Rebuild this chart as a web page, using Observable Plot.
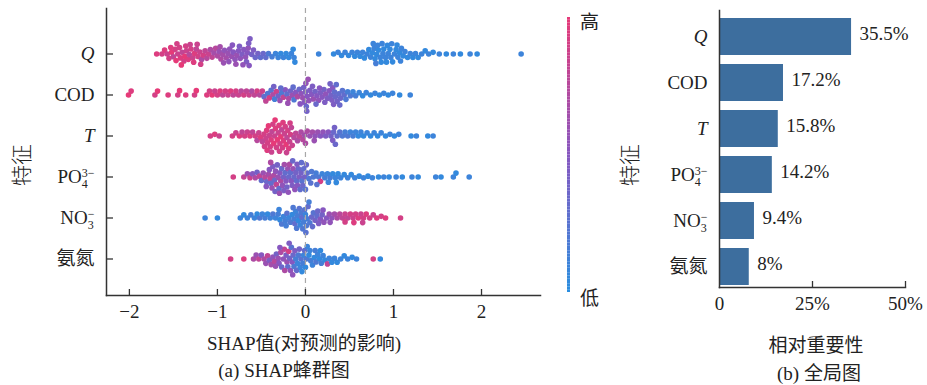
<!DOCTYPE html>
<html>
<head>
<meta charset="utf-8">
<script src="https://cdn.jsdelivr.net/npm/d3@7"></script>
<script src="https://cdn.jsdelivr.net/npm/@observablehq/plot@0.6"></script>
<style>
  html, body { margin: 0; padding: 0; background: #fff; }
  #root { position: relative; width: 927px; height: 385px; overflow: hidden;
    font-family: 'Liberation Serif', 'Noto Sans CJK SC', serif; color: #222; }
  .pane { position: absolute; top: 0; }
  .cap { position: absolute; transform: translate(-50%, -50%); white-space: nowrap; font-size: 19px; }
  .ylab { position: absolute; transform: translate(-50%, -50%) rotate(-90deg); white-space: nowrap; font-size: 21px; font-weight: 300; }
</style>
</head>
<body>
<div id="root"></div>
<script>
// ---------------- data ----------------
const features = ["Q", "COD", "T", "PO4", "NO3", "氨氮"];
const importance = [35.5, 17.2, 15.8, 14.2, 9.4, 8];
const shapTicks = [-2, -1, 0, 1, 2];
const impTicks = [0, 25, 50];

// [SHAP value, normalised feature value]
const qPts = [[-1.69,.95],[-1.63,.9],[-1.60,.95],[-1.57,.85],[-1.55,.9],[-1.52,1],[-1.50,.8],[-1.48,.9],[-1.47,1],[-1.45,.85],[-1.43,.9],[-1.42,.95],[-1.40,.8],[-1.38,.9],[-1.37,1],[-1.35,.85],[-1.33,.95],[-1.32,.75],[-1.30,.9],[-1.28,.85],[-1.26,.95],[-1.24,.8],[-1.22,.9],[-1.20,.85],[-1.18,.7],[-1.16,.9],[-1.14,.8],[-1.12,.75],[-1.10,.85],[-1.08,.7],[-1.06,.8],[-1.04,.65],[-1.02,.75],[-1.00,.7],[-0.98,.6],[-0.96,.7],[-0.94,.65],[-0.92,.55],[-0.90,.65],[-0.88,.6],[-0.86,.55],[-0.84,.6],[-0.82,.5],[-0.80,.55],[-0.78,.6],[-0.76,.5],[-0.74,.55],[-0.72,.45],[-0.70,.5],[-0.68,.55],[-0.67,.45],[-0.66,.5],[-0.65,.55],[-0.645,.45],[-0.64,.5],[-0.63,.45],[-0.61,.4],[-0.59,.45],[-0.57,.35],[-0.54,.4],[-0.51,.3],[-0.48,.35],[-0.45,.3],[-0.42,.2],[-0.38,.15],[-0.34,.1],[-0.31,.1],[-0.28,.05],[-0.25,.1],[-0.22,.05],[-0.19,.05],[-0.16,.1],[-0.14,.05],[-0.13,.1],[-0.12,.05],
  [-1.53,.95],[-1.46,.9],[-1.41,1],[-1.36,.9],[-1.31,.85],[-1.27,.95],[-1.23,.85],[-1.19,.9],[-0.97,.65],[-0.93,.6],[-0.87,.55],[-0.83,.5],[-0.79,.6],[-0.75,.45],[-0.71,.55],
  [0.15,.1],[0.32,.05],[0.37,.1],[0.41,.05],[0.45,.1],[0.49,.05],[0.53,.1],[0.56,.05],[0.59,.1],[0.62,.05],[0.65,.1],[0.67,.05],[0.70,.1],[0.72,.05],[0.74,.1],[0.76,.05],[0.78,.1],[0.79,.05],[0.80,.15],[0.81,.05],[0.82,.1],[0.83,.05],[0.85,.1],[0.86,.05],[0.88,.1],[0.89,.05],[0.91,.1],[0.92,.05],[0.94,.1],[0.96,.05],[0.97,.1],[0.99,.05],[1.01,.1],[1.03,.05],[1.05,.1],[1.07,.05],[1.09,.1],[1.11,.05],[1.13,.1],[1.16,.05],[1.19,.1],[1.22,.05],[1.25,.1],[1.28,.05],[1.32,.1],[1.36,.05],[1.40,.1],[1.45,.05],[1.52,.1],[1.60,.05],[1.68,.1],[1.76,.05],[1.87,.1],[1.95,.05],[2.45,.1],
  [0.77,.1],[0.87,.1],[0.93,.05],[0.98,.1],[1.04,.05],[1.08,.1]];

const codPts = [[-2.01,1],[-1.98,.95],[-1.71,.9],[-1.68,1],[-1.56,.95],[-1.45,.9],[-1.43,1],[-1.36,.95],[-1.26,.9],[-1.24,1],[-1.12,.95],[-1.09,.9],[-1.06,1],[-1.03,.85],[-1.00,.9],[-0.97,.95],[-0.94,.8],[-0.91,.9],[-0.88,.85],[-0.85,.95],[-0.82,.8],[-0.79,.9],[-0.76,.85],[-0.73,.75],[-0.70,.9],[-0.67,.8],[-0.64,.85],[-0.61,.7],[-0.58,.8],[-0.55,.9],[-0.52,.75],[-0.49,.85],[-0.47,.3],[-0.45,.8],[-0.43,.2],[-0.41,.9],[-0.39,.25],[-0.37,.7],[-0.35,.15],[-0.33,.85],[-0.31,.4],[-0.29,.6],[-0.27,.2],[-0.25,.8],[-0.23,.5],[-0.21,.3],[-0.19,.7],[-0.17,.4],[-0.15,.6],[-0.13,.2],[-0.11,.5],[-0.09,.7],[-0.07,.35],[-0.05,.55],[-0.03,.6],[-0.02,.4],[-0.01,.5],[0.00,.45],[0.005,.55],[0.01,.35],[0.02,.5],[0.03,.6],[0.05,.45],[0.07,.5],[0.09,.6],[0.11,.4],[0.13,.5],[0.15,.55],[0.17,.45],[0.19,.5],[0.21,.4],[0.23,.55],[0.25,.45],[0.27,.5],[0.29,.4],[0.30,.45],[0.31,.5],[0.32,.45],[0.33,.3],[0.34,.35],[0.36,.4],[0.38,.3],[0.40,.35],[0.42,.25],[0.44,.3],[0.46,.2],[0.48,.15],[0.51,.2],[0.54,.1],[0.57,.15],[0.61,.1],[0.65,.05],[0.69,.1],[0.74,.05],[0.79,.1],[0.84,.05],[0.89,.1],[0.94,.05],[0.99,.1],[1.07,.05],[1.19,.1],
  [-0.36,.4],[-0.28,.3],[-0.20,.6],[-0.14,.3],[-0.06,.5],[0.015,.4],[0.04,.55],[0.08,.45],[0.12,.35],[0.16,.5],[0.22,.45],[0.28,.4],[0.35,.3],[0.39,.35]];

const tPts = [[-1.08,.9],[-1.03,.95],[-0.98,.85],[-0.83,.9],[-0.79,.85],[-0.75,.95],[-0.72,.8],[-0.69,.9],[-0.66,.85],[-0.63,.95],[-0.60,.8],[-0.57,.9],[-0.55,.75],[-0.53,.85],[-0.51,.95],[-0.49,.8],[-0.47,.9],[-0.45,.85],[-0.44,.95],[-0.43,.9],[-0.42,1],[-0.41,.85],[-0.40,.9],[-0.39,.95],[-0.38,.8],[-0.37,.9],[-0.36,1],[-0.35,.85],[-0.34,.95],[-0.33,.9],[-0.32,1],[-0.31,.85],[-0.30,.95],[-0.29,.9],[-0.28,1],[-0.27,.8],[-0.26,.9],[-0.25,.95],[-0.24,.85],[-0.23,.9],[-0.22,1],[-0.21,.8],[-0.20,.9],[-0.19,.95],[-0.18,.85],[-0.17,.9],[-0.16,.8],[-0.15,.85],[-0.13,.75],[-0.11,.8],[-0.09,.7],[-0.07,.8],[-0.05,.7],[-0.03,.75],[-0.01,.65],[0.02,.7],[0.05,.6],[0.08,.65],[0.11,.55],[0.14,.6],[0.17,.5],[0.20,.55],[0.23,.45],[0.26,.5],[0.29,.4],[0.31,.45],[0.32,.35],[0.33,.4],[0.34,.35],[0.36,.3],[0.39,.25],[0.42,.2],[0.45,.15],[0.48,.2],[0.51,.1],[0.54,.15],[0.57,.1],[0.60,.05],[0.63,.1],[0.66,.05],[0.70,.1],[0.74,.05],[0.78,.1],[0.82,.05],[0.86,.1],[0.91,.05],[0.96,.1],[1.01,.05],[1.06,.1],[1.20,.05],[1.26,.1],[1.39,.05],[1.45,.1],
  [-0.465,.9],[-0.435,.95],[-0.385,.85],[-0.345,1],[-0.295,.9],[-0.255,.95],[-0.215,.85],[-0.175,.9],[0.00,.7],[0.10,.6]];

const po4Pts = [[-0.82,.9],[-0.70,.8],[-0.66,.6],[-0.63,.85],[-0.60,.5],[-0.57,.7],[-0.55,.4],[-0.52,.8],[-0.50,.3],[-0.48,.6],[-0.46,.75],[-0.44,.35],[-0.42,.65],[-0.41,.5],[-0.40,.8],[-0.39,.3],[-0.38,.6],[-0.37,.45],[-0.36,.7],[-0.35,.35],[-0.34,.55],[-0.33,.8],[-0.32,.4],[-0.31,.6],[-0.30,.3],[-0.29,.5],[-0.28,.7],[-0.27,.35],[-0.26,.55],[-0.25,.4],[-0.24,.65],[-0.23,.3],[-0.22,.5],[-0.21,.4],[-0.20,.6],[-0.19,.35],[-0.18,.7],[-0.17,.3],[-0.16,.5],[-0.15,.45],[-0.14,.6],[-0.13,.35],[-0.12,.55],[-0.11,.4],[-0.10,.3],[-0.09,.5],[-0.08,.35],[-0.07,.45],[-0.06,.3],[-0.05,.4],[-0.04,.25],[-0.03,.35],[-0.02,.3],[-0.01,.4],[0.00,.25],[0.02,.3],[0.04,.2],[0.06,.25],[0.09,.2],[0.12,.15],[0.15,.2],[0.17,.9],[0.19,.1],[0.22,.15],[0.25,.1],[0.28,.15],[0.31,.05],[0.34,.1],[0.37,.05],[0.40,.1],[0.44,.05],[0.48,.1],[0.52,.05],[0.56,.1],[0.61,.05],[0.66,.1],[0.71,.05],[0.76,.1],[0.83,.05],[0.89,.1],[0.95,.05],[1.03,.1],[1.10,.05],[1.21,.1],[1.28,.05],[1.48,.1],[1.54,.05],[1.68,.1],[1.71,.05],[1.86,.1],
  [-0.445,.5],[-0.395,.7],[-0.345,.4],[-0.295,.6],[-0.245,.45],[-0.195,.55],[-0.145,.35],[-0.095,.45],[-0.045,.3],[0.01,.35],[0.07,.2],[0.13,.25],[0.26,.1],[0.35,.05]];

const no3Pts = [[-1.14,.1],[-1.00,.05],[-0.74,.1],[-0.70,.05],[-0.66,.1],[-0.62,.15],[-0.58,.1],[-0.55,.05],[-0.52,.2],[-0.49,.1],[-0.46,.15],[-0.43,.05],[-0.40,.1],[-0.37,.2],[-0.34,.1],[-0.31,.15],[-0.29,.05],[-0.27,.2],[-0.25,.1],[-0.23,.15],[-0.21,.25],[-0.19,.1],[-0.17,.2],[-0.15,.05],[-0.13,.15],[-0.12,.3],[-0.11,.1],[-0.10,.2],[-0.09,.15],[-0.08,.05],[-0.07,.25],[-0.06,.1],[-0.05,.2],[-0.04,.3],[-0.03,.2],[-0.02,.15],[-0.01,.25],[0.00,.1],[0.01,.2],[0.02,.15],[0.03,.3],[0.05,.2],[0.07,.35],[0.09,.25],[0.11,.4],[0.13,.3],[0.15,.45],[0.17,.5],[0.19,.4],[0.21,.55],[0.24,.5],[0.27,.6],[0.30,.55],[0.33,.65],[0.36,.7],[0.39,.75],[0.42,.8],[0.45,.85],[0.48,.8],[0.51,.9],[0.54,.85],[0.57,.9],[0.60,.95],[0.63,.85],[0.66,.9],[0.69,.95],[0.73,.9],[0.77,.85],[0.81,.95],[0.86,.9],[0.91,.95],[1.08,.9],
  [-0.30,.1],[-0.22,.15],[-0.14,.2],[0.005,.25],[0.04,.15],[0.08,.3],[0.14,.35],[0.20,.5],[0.28,.55],[0.45,.9],[0.55,.95],[0.65,.85]];

const nh3Pts = [[-0.85,.9],[-0.70,.95],[-0.59,.7],[-0.56,.6],[-0.53,.8],[-0.50,.5],[-0.47,.7],[-0.45,.6],[-0.43,.8],[-0.41,.45],[-0.39,.65],[-0.37,.55],[-0.35,.75],[-0.33,.4],[-0.31,.6],[-0.30,.5],[-0.28,.7],[-0.27,.35],[-0.25,.55],[-0.24,.8],[-0.22,.45],[-0.21,.6],[-0.20,.3],[-0.19,.9],[-0.18,.4],[-0.17,.55],[-0.16,.25],[-0.15,.5],[-0.14,.35],[-0.13,.2],[-0.12,.45],[-0.11,.15],[-0.10,.3],[-0.09,.1],[-0.08,.2],[-0.07,.4],[-0.06,.1],[-0.05,.25],[-0.04,.05],[-0.03,.15],[-0.02,.1],[-0.01,.3],[0.00,.05],[0.01,.2],[0.02,.1],[0.04,.05],[0.06,.15],[0.08,.1],[0.10,.05],[0.12,.2],[0.14,.1],[0.16,.05],[0.18,.15],[0.20,.1],[0.22,.05],[0.25,.8],[0.27,.1],[0.30,.05],[0.33,.1],[0.36,.05],[0.40,.1],[0.44,.05],[0.48,.1],[0.53,.05],[0.58,.1],[0.77,.9],[0.85,.05],
  [-0.34,.6],[-0.29,.5],[-0.235,.7],[-0.185,.45],[-0.145,.55],[0.05,.1],[0.11,.15],[0.17,.05]];

const rows = [qPts, codPts, tPts, po4Pts, no3Pts, nh3Pts];
const points = features.flatMap((f, i) => rows[i].map(([s, v]) => ({f, s, v})));
const impData = features.map((f, i) => ({f, v: importance[i]}));

// ---------------- styling ----------------
const FONT = "'Liberation Serif', 'Noto Sans CJK SC', serif";
const AX = "#333";
const colorScale = {type: "linear", domain: [0, 0.5, 1], range: ["#2a8fe0", "#8757c0", "#e63a78"], interpolate: "rgb"};
const xDomainA = [-2.26, 2.67];
const bandA = {paddingInner: 0, paddingOuter: 0.42, align: 0.6};

const root = document.getElementById("root");
function place(node, left, w, h) {
  const d = document.createElement("div");
  d.className = "pane"; d.style.left = left + "px";
  d.style.width = w + "px"; d.style.height = h + "px";
  d.appendChild(node); root.appendChild(d);
}
function label(cls, text, x, y) {
  const d = document.createElement("div");
  d.className = cls; d.textContent = text;
  d.style.left = x + "px"; d.style.top = y + "px";
  root.appendChild(d);
}
const NS = "http://www.w3.org/2000/svg";
function stack(t, base, sub, sup) {
  t.textContent = "";
  const a = document.createElementNS(NS, "tspan"); a.textContent = base;
  const b = document.createElementNS(NS, "tspan"); b.textContent = sub;
  b.setAttribute("font-size", "12"); b.setAttribute("dy", "5");
  const c = document.createElementNS(NS, "tspan"); c.textContent = sup;
  c.setAttribute("font-size", "12"); c.setAttribute("dy", "-11"); c.setAttribute("dx", "-6");
  t.append(a, b, c);
}
function fixLabels(svg) {
  svg.querySelectorAll("text").forEach(t => {
    const s = t.textContent;
    if (s === "Q" || s === "T") t.setAttribute("font-style", "italic");
    else if (s === "PO4") stack(t, "PO", "4", "3\u2212");
    else if (s === "NO3") stack(t, "NO", "3", "\u2212");
  });
}

// ---------------- (a) beeswarm dots ----------------
const dims = {width: 560, height: 332, marginLeft: 106, marginRight: 20, marginTop: 8, marginBottom: 37};
const swarm = Plot.plot({
  ...dims,
  style: {background: "transparent"},
  x: {domain: xDomainA, axis: null},
  fy: {domain: features, ...bandA, axis: null},
  color: colorScale,
  facet: {data: points, y: "f"},
  marks: [
    Plot.dot(points, Plot.dodgeY({anchor: "middle", padding: -0.9, x: "s", r: 2.8, fill: "v"}))
  ]
});
place(swarm, 0, 560, 332);

// ---------------- (a) axes overlay ----------------
const axesA = Plot.plot({
  ...dims,
  style: {background: "transparent", fontFamily: FONT, fontSize: "19px", color: "#222"},
  x: {domain: xDomainA, ticks: shapTicks, tickFormat: d3.format("d"), tickSize: 0, tickPadding: 9, label: null},
  y: {type: "band", domain: features, ...bandA, tickSize: 0, tickPadding: 12, label: null},
  marks: [
    Plot.ruleX([0], {stroke: "#a8a8a8", strokeWidth: 1.2, strokeDasharray: "5,4"}),
    Plot.frame({anchor: "left", stroke: AX, strokeWidth: 1.5}),
    Plot.frame({anchor: "bottom", stroke: AX, strokeWidth: 1.5}),
    Plot.tickX(shapTicks, {x: d => d, insetTop: 281, stroke: AX, strokeWidth: 1.3}),
    Plot.tickY(features, {y: d => d, insetRight: 427, stroke: AX, strokeWidth: 1.3})
  ]
});
fixLabels(axesA);
place(axesA, 0, 560, 332);

// ---------------- colour bar ----------------
const grad = d3.range(0, 1, 0.01).map(a => ({a, b: a + 0.01}));
const cbar = Plot.plot({
  width: 60, height: 320, marginLeft: 7, marginRight: 50, marginTop: 17, marginBottom: 28,
  style: {background: "transparent", fontFamily: FONT, fontSize: "19px", color: "#222"},
  x: {domain: [0, 1], axis: null},
  y: {domain: [0, 1], axis: null},
  color: colorScale,
  marks: [
    Plot.rect(grad, {x1: 0, x2: 1, y1: "a", y2: "b", fill: d => (d.a + d.b) / 2}),
    Plot.text(["高"], {x: 1, y: 1, text: d => d, dx: 19, dy: 5, fill: "#222"}),
    Plot.text(["低"], {x: 1, y: 0, text: d => d, dx: 19, dy: 6, fill: "#222"})
  ]
});
place(cbar, 560, 60, 320);

// ---------------- (b) importance bars ----------------
const bars = Plot.plot({
  width: 307, height: 332, marginLeft: 99, marginRight: 22, marginTop: 10, marginBottom: 45,
  style: {background: "transparent", fontFamily: FONT, fontSize: "19px", color: "#222"},
  x: {domain: [0, 50], ticks: impTicks, tickFormat: d => d === 0 ? "0" : d + "%", tickSize: 0, tickPadding: 9, label: null},
  y: {domain: features, paddingInner: 0.2, paddingOuter: 0.11, align: 0.78, tickSize: 0, tickPadding: 12, label: null},
  marks: [
    Plot.barX(impData, {x: "v", y: "f", fill: "#3d6e9e"}),
    Plot.text(impData, {x: "v", y: "f", text: d => d.v + "%", dx: 8, dy: -3, textAnchor: "start", fill: "#222"}),
    Plot.frame({anchor: "left", stroke: AX, strokeWidth: 1.5}),
    Plot.frame({anchor: "bottom", stroke: AX, strokeWidth: 1.5}),
    Plot.tickX([25, 50], {x: d => d, insetTop: 271, stroke: AX, strokeWidth: 1.3})
  ]
});
fixLabels(bars);
place(bars, 620, 307, 332);

// ---------------- captions ----------------
label("ylab", "特征", 20, 165);
label("ylab", "特征", 628, 165);
label("cap", "SHAP值(对预测的影响)", 304, 341);
label("cap", "(a) SHAP蜂群图", 284, 368);
label("cap", "相对重要性", 816, 343);
label("cap", "(b) 全局图", 819, 371);
</script>
</body>
</html>
